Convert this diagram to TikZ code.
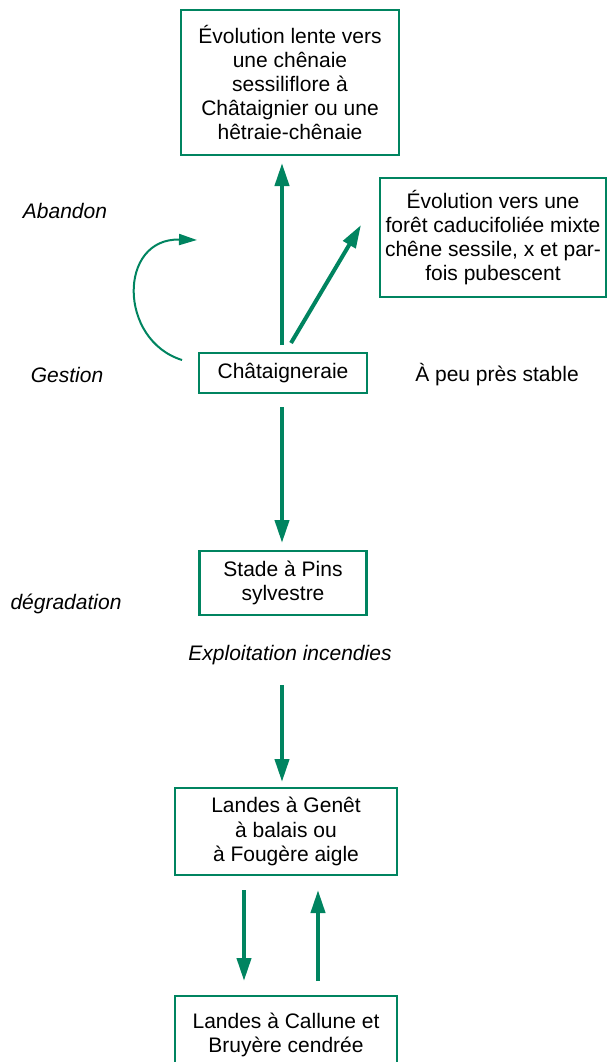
\documentclass[tikz,border=0pt]{standalone}
\usepackage{fontspec}
\setmainfont{Liberation Sans}
\usetikzlibrary{arrows.meta}
\definecolor{vert}{RGB}{0,132,96}
\tikzset{
  box/.style={draw=vert, line width=2.2pt, inner sep=0pt, align=center,
    font=\fontsize{21}{24.2}\selectfont, text=black},
  lbl/.style={inner sep=0pt, font=\fontsize{21}{24.2}\selectfont\itshape, text=black},
  plain/.style={inner sep=0pt, font=\fontsize{21}{24.2}\selectfont, text=black},
  thick arrow/.style={draw=vert, line width=4pt,
    -{Triangle[length=23pt,width=14pt]}},
  thin arrow/.style={draw=vert, line width=2pt,
    -{Triangle[length=18pt,width=11pt]}},
}
\begin{document}
\begin{tikzpicture}[x=1pt,y=-1pt]
\useasboundingbox (0,0) rectangle (607,1062);
\clip (0,0) rectangle (607,1062);
% boxes
\node[box, minimum width=218pt, minimum height=145pt] (top) at (290,82.5)
  {Évolution lente vers\\une chênaie\\sessiliflore à\\Châtaignier ou une\\hêtraie-chênaie};
\node[box, minimum width=226pt, minimum height=119pt] (right) at (493,237.5)
  {Évolution vers une\\forêt caducifoliée mixte\\chêne sessile, x et par-\\fois pubescent};
\node[box, minimum width=168pt, minimum height=40pt] (chat) at (283,373)
  {Châtaigneraie};
\node[box, minimum width=167pt, minimum height=64pt] (pins) at (283,583)
  {Stade à Pins\\sylvestre};
\node[box, minimum width=222pt, minimum height=87pt] (genet) at (286,831.5)
  {Landes à Genêt\\à balais ou\\à Fougère aigle};
\node[box, minimum width=222pt, minimum height=78pt] (callune) at (286,1035)
  {Landes à Callune et\\Bruyère cendrée};
% labels
\node[lbl] (abandon) at (65,211) {Abandon};
\node[lbl] (gestion) at (67,375) {Gestion};
\node[plain] (stable) at (497,375) {À peu près stable};
\node[lbl] (degr) at (66,604) {dégradation};
\node[lbl] (expl) at (290,655) {Exploitation incendies};
% arrow end points
\coordinate (a1s) at (282,345);
\coordinate (a1e) at (282,163);
\coordinate (a2s) at (291,343);
\coordinate (a2e) at (361,225);
\coordinate (c1s) at (182,360);
\coordinate (c1e) at (197,240);
\coordinate (a3s) at (282,407);
\coordinate (a3e) at (282,543);
\coordinate (a4s) at (282,685);
\coordinate (a4e) at (282,782);
\coordinate (a5s) at (244,890);
\coordinate (a5e) at (244,981);
\coordinate (a6s) at (318,981);
\coordinate (a6e) at (318,890);
% arrows
\draw[thick arrow] (a1s) -- (a1e);
\draw[thick arrow] (a2s) -- (a2e);
\draw[thin arrow] (c1s) .. controls (118,340) and (118,238) .. (c1e);
\draw[thick arrow] (a3s) -- (a3e);
\draw[thick arrow] (a4s) -- (a4e);
\draw[thick arrow] (a5s) -- (a5e);
\draw[thick arrow] (a6s) -- (a6e);
\end{tikzpicture}
\end{document}
